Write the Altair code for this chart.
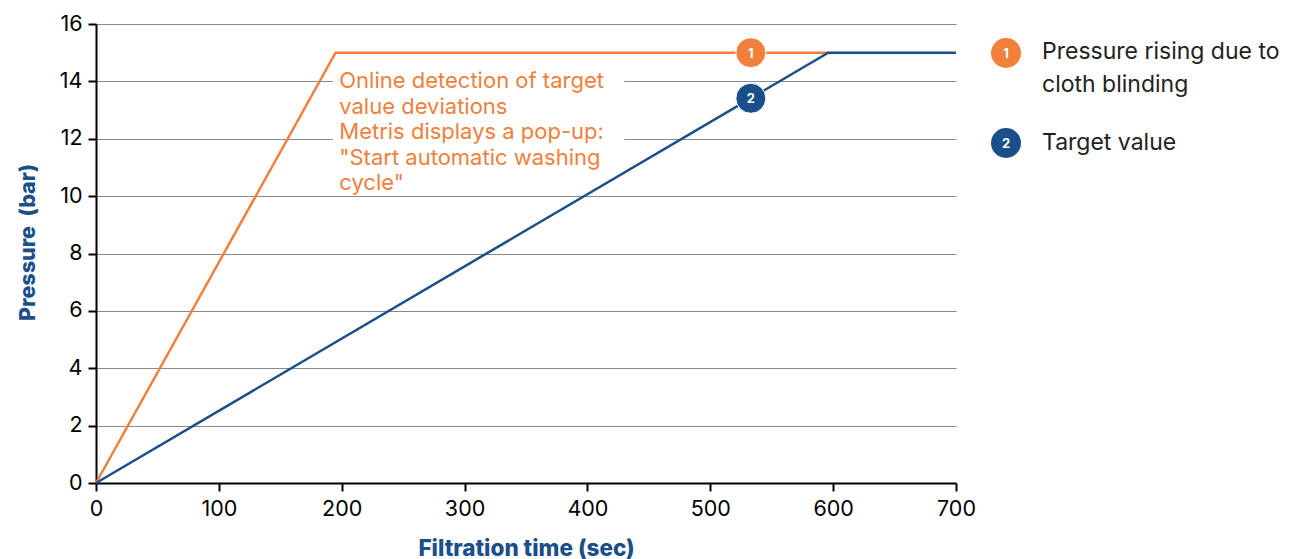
import altair as alt
import pandas as pd

ORANGE = "#F0803C"
BLUE = "#1A4F8A"
FONT = "Inter"

# data
time_orange = [0, 195, 596]
pressure_orange = [0, 15, 15]
time_blue = [0, 596, 700]
pressure_blue = [0, 15, 15]

marker_time = [533, 533]
marker_pressure = [15, 13.41]
marker_label = ["1", "2"]
marker_series = ["orange", "blue"]

legend_label = ["1", "2"]
legend_text = [["Pressure rising due to", "cloth blinding"], ["Target value"]]

annotation = ["Online detection of target", "value deviations",
              "Metris displays a pop-up:", "\"Start automatic washing", "cycle\""]

x_ticks = [0, 100, 200, 300, 400, 500, 600, 700]
y_ticks = [0, 2, 4, 6, 8, 10, 12, 14, 16]

df_o = pd.DataFrame({"t": time_orange, "p": pressure_orange})
df_b = pd.DataFrame({"t": time_blue, "p": pressure_blue})
df_m = pd.DataFrame({"t": marker_time, "p": marker_pressure, "lab": marker_label, "s": marker_series})
df_l = pd.DataFrame({"lab": legend_label, "txt": legend_text, "s": marker_series})

xs = alt.Scale(domain=[0, 700], nice=False)
ys = alt.Scale(domain=[0, 16], nice=False)
cs = alt.Scale(domain=["orange", "blue"], range=[ORANGE, BLUE])

xax = alt.Axis(values=x_ticks, title="Filtration time (sec)", grid=False, labelFlush=False,
               labelFontSize=21.5, labelColor="black", labelFont=FONT, labelPadding=7,
               tickSize=8, tickWidth=2, tickColor="black", domainColor="black", domainWidth=2,
               titleFont=FONT, titleFontSize=22.5, titleFontWeight=800, titleColor=BLUE,
               titlePadding=18)
yax = alt.Axis(values=y_ticks, title="Pressure\u00a0 (bar)", grid=True, gridColor="#8a8a8a", gridWidth=1.2,
               labelFontSize=21.5, labelColor="black", labelFont=FONT, labelPadding=6,
               tickSize=8, tickWidth=2, tickColor="black", domainColor="black", domainWidth=2,
               titleFont=FONT, titleFontSize=21.5, titleFontWeight=800, titleColor=BLUE,
               titlePadding=20, titleY=218)

base_axes = alt.Chart(df_o).mark_line(opacity=0).encode(
    x=alt.X("t:Q", scale=xs, axis=xax),
    y=alt.Y("p:Q", scale=ys, axis=yax),
)

box = alt.Chart(pd.DataFrame({"a": [0]})).mark_rect(color="white").encode(
    x=alt.datum(193, scale=xs), x2=alt.datum(430),
    y=alt.datum(10.2, scale=ys), y2=alt.datum(14.8),
)

line_o = alt.Chart(df_o).mark_line(color=ORANGE, strokeWidth=2.5).encode(
    x=alt.X("t:Q", scale=xs), y=alt.Y("p:Q", scale=ys))
line_b = alt.Chart(df_b).mark_line(color=BLUE, strokeWidth=2.5).encode(
    x=alt.X("t:Q", scale=xs), y=alt.Y("p:Q", scale=ys))

circles = alt.Chart(df_m).mark_point(filled=True, opacity=1, size=900, shape="circle",
                                     stroke="white", strokeWidth=1).encode(
    x=alt.X("t:Q", scale=xs), y=alt.Y("p:Q", scale=ys),
    color=alt.Color("s:N", scale=cs, legend=None))
nums = alt.Chart(df_m).mark_text(color="white", font=FONT, fontSize=13, fontWeight="bold", dy=1).encode(
    x=alt.X("t:Q", scale=xs), y=alt.Y("p:Q", scale=ys), text="lab:N")

ann = alt.Chart(pd.DataFrame({"txt": [annotation]})).mark_text(
    color=ORANGE, font=FONT, fontSize=22, align="left", baseline="middle", lineHeight=25.4).encode(
    x=alt.datum(198, scale=xs), y=alt.datum(14.0, scale=ys), text="txt")

legend_layers = []
for i, (yc, yt) in enumerate([(29, 28), (119, 119)]):
    sub = alt.Chart(df_l).transform_filter(alt.datum.lab == legend_label[i])
    legend_layers.append(sub.mark_point(filled=True, opacity=1, size=900, shape="circle").encode(
        x=alt.value(910), y=alt.value(yc), color=alt.Color("s:N", scale=cs, legend=None)))
    legend_layers.append(sub.mark_text(color="white", font=FONT, fontSize=13, fontWeight="bold", dy=1).encode(
        x=alt.value(910), y=alt.value(yc), text="lab:N"))
    legend_layers.append(sub.mark_text(color="#222222", font=FONT, fontSize=23, align="left",
                                       baseline="middle", lineHeight=33).encode(
        x=alt.value(946), y=alt.value(yt), text="txt"))

chart = alt.layer(base_axes, box, line_o, line_b, circles, nums, ann, *legend_layers).properties(
    width=860, height=459,
    autosize=alt.AutoSizeParams(type="none"),
    padding={"left": 88, "top": 16, "right": 330, "bottom": 76},
).configure_view(stroke=None)

chart.save("out.html", embed_options={"renderer": "svg", "actions": False})
